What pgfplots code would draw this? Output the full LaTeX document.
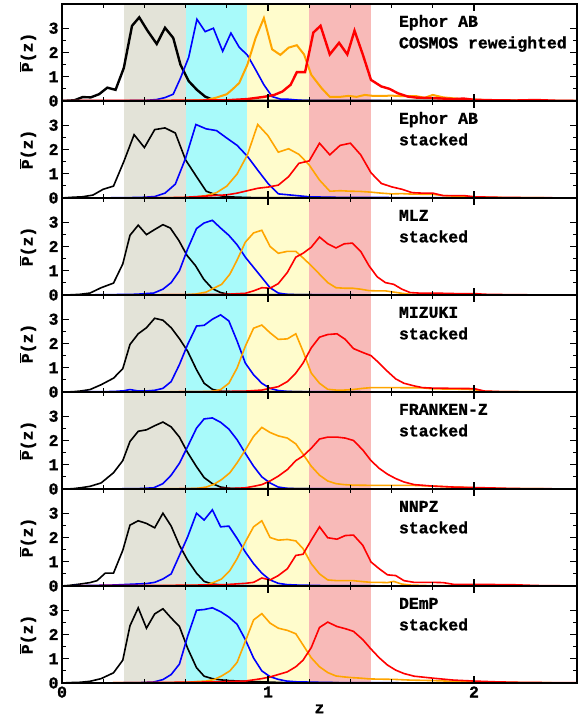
\documentclass[border=0pt]{standalone}
\usepackage{pgfplots}
\pgfplotsset{compat=1.18}
\usepackage{fontspec}
\setmainfont{Liberation Mono}[BoldFeatures={FakeBold=1.2}]

\definecolor{bgray}{RGB}{227,227,216}
\definecolor{bcyan}{RGB}{168,250,250}
\definecolor{byellow}{RGB}{255,252,204}
\definecolor{bred}{RGB}{248,186,184}
\definecolor{corange}{RGB}{255,165,0}

\newcommand{\labfont}{\fontsize{16.5}{19}\selectfont\bfseries}

\pgfplotsset{
  pzpanel/.style={
    width=515bp, height=97bp, scale only axis,
    anchor=south west,
    xmin=0, xmax=2.5, ymin=0, ymax=4,
    xtick={0,1,2}, ytick={0,1,2,3},
    minor x tick num=4, minor y tick num=1,
    tick align=inside,
    major tick length=7bp, minor tick length=4bp,
    tick style={line width=1.1bp, black},
    axis line style={line width=1.6bp},
    axis on top,
    /pgf/number format/assume math mode=true,
    tick label style={font=\labfont},
    label style={font=\labfont},
    ylabel={$\overline{\hbox{P}}$(z)},
    ylabel style={at={(axis description cs:-0.066,0.5)}, anchor=center},
    xticklabel=\empty,
  },
  kline/.style={black, line width=1.6bp},
  bline/.style={blue, line width=1.6bp},
  oline/.style={corange, line width=1.6bp},
  rline/.style={red, line width=1.6bp},
}

% redshift bins shaded behind the curves
\newcommand{\bands}{%
  \addplot[draw=none, fill=bgray]   coordinates {(0.3,0) (0.3,4) (0.6,4) (0.6,0)};
  \addplot[draw=none, fill=bcyan]   coordinates {(0.6,0) (0.6,4) (0.9,4) (0.9,0)};
  \addplot[draw=none, fill=byellow] coordinates {(0.9,0) (0.9,4) (1.2,4) (1.2,0)};
  \addplot[draw=none, fill=bred]    coordinates {(1.2,0) (1.2,4) (1.5,4) (1.5,0)};
}
\newcommand{\panellabel}[2]{%
  \node[anchor=base west, inner sep=0pt, font=\labfont] at (axis description cs:0.654,0.765) {#1};
  \node[anchor=base west, inner sep=0pt, font=\labfont] at (axis description cs:0.654,0.543) {#2};
}

\begin{document}
\begin{tikzpicture}
\useasboundingbox (0,0) rectangle (583bp,723bp);

% ---------------- Ephor AB, COSMOS reweighted ----------------
\begin{axis}[pzpanel, at={(62bp,622bp)}]
\bands
\addplot[kline, line width=2.4bp] coordinates {(0,0) (0.06,0.03) (0.1,0.16) (0.14,0.15) (0.18,0.28) (0.22,0.55) (0.26,0.46) (0.30,1.36) (0.34,3.1) (0.375,3.45) (0.415,2.9) (0.46,2.35) (0.50,3.02) (0.54,2.6) (0.575,1.5) (0.615,0.82) (0.655,0.46) (0.695,0.18) (0.735,0.04) (0.78,0.01) (2.5,0)};
\addplot[bline] coordinates {(0,0.01) (0.4,0.02) (0.46,0.06) (0.50,0.14) (0.54,0.28) (0.575,0.94) (0.615,1.8) (0.655,3.37) (0.695,2.86) (0.735,3.0) (0.78,2.05) (0.82,2.8) (0.86,2.22) (0.90,1.89) (0.94,1.29) (0.98,0.67) (1.02,0.18) (1.06,0.08) (1.10,0.07) (1.14,0.04) (1.18,0.02) (1.3,0.01) (2.5,0)};
\addplot[oline, line width=2bp] coordinates {(0,0) (0.6,0.01) (0.70,0.04) (0.75,0.14) (0.80,0.28) (0.83,0.5) (0.86,0.74) (0.90,1.5) (0.94,2.6) (0.98,3.42) (1.02,2.13) (1.06,1.9) (1.10,2.2) (1.14,2.3) (1.175,1.92) (1.21,1.08) (1.26,0.53) (1.30,0.17) (1.35,0.17) (1.39,0.21) (1.43,0.17) (1.47,0.25) (1.51,0.21) (1.55,0.21) (1.6,0.22) (1.65,0.2) (1.72,0.2) (1.76,0.13) (1.8,0.25) (1.85,0.15) (1.95,0.07) (2.05,0.04) (2.15,0.02) (2.5,0)};
\addplot[rline, line width=2.4bp] coordinates {(0,0) (0.5,0.01) (0.8,0.03) (0.9,0.08) (0.98,0.17) (1.03,0.25) (1.07,0.39) (1.11,0.67) (1.14,1.19) (1.18,1.19) (1.22,2.82) (1.255,3.1) (1.30,1.92) (1.345,2.4) (1.385,1.92) (1.42,2.9) (1.46,1.92) (1.50,0.87) (1.55,0.6) (1.59,0.5) (1.63,0.32) (1.68,0.18) (1.72,0.14) (1.8,0.12) (1.85,0.1) (1.9,0.08) (1.95,0.1) (2.0,0.05) (2.1,0.03) (2.2,0.02) (2.3,0.04) (2.4,0.01) (2.5,0)};
\panellabel{Ephor AB}{COSMOS reweighted}
\end{axis}

% ---------------- Ephor AB, stacked ----------------
\begin{axis}[pzpanel, at={(62bp,525bp)}]
\bands
\addplot[kline] coordinates {(0,0) (0.05,0.03) (0.1,0.05) (0.15,0.12) (0.2,0.36) (0.25,0.49) (0.3,1.5) (0.35,2.61) (0.4,2.08) (0.45,2.82) (0.5,2.89) (0.55,2.68) (0.6,1.57) (0.65,0.92) (0.7,0.28) (0.75,0.12) (0.8,0.05) (0.9,0.02) (1.0,0.01) (2.5,0)};
\addplot[bline] coordinates {(0,0) (0.3,0.01) (0.4,0.03) (0.45,0.06) (0.5,0.2) (0.55,0.57) (0.6,1.64) (0.65,3.03) (0.7,2.85) (0.75,2.78) (0.8,2.47) (0.85,2.17) (0.9,1.72) (0.95,1.15) (1.0,0.6) (1.05,0.17) (1.1,0.13) (1.15,0.09) (1.2,0.05) (1.3,0.03) (1.5,0.02) (2.5,0)};
\addplot[oline] coordinates {(0,0) (0.6,0.01) (0.65,0.04) (0.7,0.1) (0.75,0.22) (0.8,0.49) (0.85,0.99) (0.9,1.78) (0.95,3.03) (1.0,2.57) (1.05,1.89) (1.1,2.03) (1.15,1.8) (1.2,1.36) (1.25,0.74) (1.3,0.28) (1.35,0.3) (1.4,0.28) (1.45,0.27) (1.5,0.24) (1.55,0.2) (1.6,0.17) (1.65,0.18) (1.7,0.16) (1.8,0.15) (1.85,0.1) (1.9,0.08) (2.0,0.05) (2.1,0.02) (2.5,0)};
\addplot[rline] coordinates {(0,0) (0.5,0.01) (0.6,0.03) (0.7,0.08) (0.8,0.13) (0.85,0.2) (0.9,0.3) (0.95,0.4) (1.0,0.45) (1.05,0.53) (1.1,0.88) (1.15,1.43) (1.2,1.53) (1.25,2.26) (1.3,1.78) (1.35,2.17) (1.4,2.26) (1.45,1.78) (1.5,1.04) (1.55,0.6) (1.6,0.46) (1.65,0.36) (1.7,0.22) (1.75,0.2) (1.8,0.2) (1.85,0.1) (1.9,0.1) (1.95,0.1) (2.0,0.05) (2.1,0.03) (2.2,0.02) (2.5,0)};
\panellabel{Ephor AB}{stacked}
\end{axis}

% ---------------- MLZ ----------------
\begin{axis}[pzpanel, at={(62bp,428bp)}]
\bands
\addplot[kline] coordinates {(0,0) (0.05,0.01) (0.09,0.03) (0.136,0.08) (0.19,0.3) (0.25,0.49) (0.295,1.28) (0.33,2.46) (0.37,2.88) (0.41,2.49) (0.45,2.7) (0.49,2.9) (0.526,2.76) (0.567,2.25) (0.607,1.63) (0.648,1.21) (0.688,0.65) (0.73,0.26) (0.77,0.1) (0.81,0.03) (0.9,0.01) (2.5,0)};
\addplot[bline] coordinates {(0,0) (0.2,0.01) (0.36,0.03) (0.445,0.08) (0.49,0.24) (0.53,0.51) (0.57,1.0) (0.61,1.9) (0.653,2.74) (0.69,2.97) (0.73,3.08) (0.77,2.76) (0.81,2.46) (0.85,2.07) (0.89,1.56) (0.93,1.14) (0.97,0.72) (1.01,0.3) (1.05,0.08) (1.09,0.03) (1.15,0.01) (2.5,0)};
\addplot[oline] coordinates {(0,0) (0.6,0.01) (0.65,0.04) (0.70,0.12) (0.737,0.28) (0.775,0.44) (0.815,0.86) (0.85,1.44) (0.89,2.18) (0.93,2.56) (0.97,2.67) (1.01,2.0) (1.05,1.72) (1.094,1.8) (1.135,1.8) (1.17,1.53) (1.21,1.21) (1.25,0.86) (1.29,0.51) (1.33,0.3) (1.37,0.28) (1.41,0.28) (1.45,0.24) (1.49,0.18) (1.53,0.17) (1.57,0.17) (1.61,0.12) (1.65,0.07) (1.7,0.02) (1.8,0.01) (2.5,0)};
\addplot[rline] coordinates {(0,0) (0.6,0.01) (0.8,0.03) (0.89,0.07) (0.93,0.17) (0.97,0.3) (1.01,0.28) (1.05,0.47) (1.094,0.93) (1.135,1.56) (1.17,1.72) (1.21,1.97) (1.25,2.39) (1.29,2.11) (1.33,1.94) (1.37,2.11) (1.41,2.14) (1.45,1.8) (1.49,1.21) (1.53,0.75) (1.57,0.51) (1.61,0.44) (1.65,0.24) (1.69,0.1) (1.75,0.07) (1.85,0.07) (1.95,0.05) (2.0,0.06) (2.05,0.03) (2.2,0.01) (2.5,0)};
\panellabel{MLZ}{stacked}
\end{axis}

% ---------------- MIZUKI ----------------
\begin{axis}[pzpanel, at={(62bp,331bp)}]
\bands
\addplot[kline] coordinates {(0,0) (0.05,0.01) (0.09,0.04) (0.136,0.1) (0.19,0.3) (0.25,0.57) (0.295,0.96) (0.33,1.96) (0.37,2.4) (0.41,2.65) (0.45,3.04) (0.49,2.96) (0.53,2.65) (0.57,2.2) (0.61,1.68) (0.653,0.92) (0.69,0.36) (0.73,0.11) (0.77,0.03) (0.85,0.01) (2.5,0)};
\addplot[bline] coordinates {(0,0) (0.25,0.02) (0.3,0.05) (0.33,0.1) (0.37,0.04) (0.41,0.04) (0.45,0.07) (0.49,0.15) (0.53,0.43) (0.57,1.13) (0.61,1.96) (0.653,2.72) (0.69,2.75) (0.73,3.0) (0.77,3.18) (0.81,2.93) (0.85,2.1) (0.89,1.19) (0.93,0.71) (0.97,0.36) (1.01,0.15) (1.05,0.06) (1.1,0.02) (1.2,0.01) (2.5,0)};
\addplot[oline] coordinates {(0,0) (0.65,0.01) (0.73,0.03) (0.77,0.1) (0.81,0.36) (0.85,0.99) (0.89,1.89) (0.93,2.63) (0.97,2.76) (1.01,2.44) (1.05,2.17) (1.094,2.19) (1.135,2.4) (1.17,1.68) (1.21,0.78) (1.25,0.36) (1.29,0.11) (1.33,0.08) (1.37,0.08) (1.41,0.1) (1.46,0.15) (1.5,0.18) (1.6,0.18) (1.75,0.17) (1.8,0.13) (1.9,0.12) (2.0,0.1) (2.05,0.02) (2.5,0)};
\addplot[rline] coordinates {(0,0) (0.7,0.01) (0.9,0.04) (0.97,0.08) (1.01,0.15) (1.05,0.22) (1.094,0.43) (1.135,0.78) (1.17,1.19) (1.21,1.82) (1.25,2.26) (1.29,2.37) (1.335,2.4) (1.375,2.17) (1.415,1.79) (1.46,1.63) (1.5,1.5) (1.54,1.19) (1.58,0.85) (1.62,0.54) (1.66,0.36) (1.71,0.25) (1.75,0.18) (1.8,0.16) (1.9,0.15) (2.0,0.14) (2.05,0.04) (2.15,0.01) (2.5,0)};
\panellabel{MIZUKI}{stacked}
\end{axis}

% ---------------- FRANKEN-Z ----------------
\begin{axis}[pzpanel, at={(62bp,234bp)}]
\bands
\addplot[kline] coordinates {(0,0) (0.05,0.01) (0.09,0.05) (0.136,0.11) (0.19,0.25) (0.25,0.67) (0.295,1.17) (0.33,1.96) (0.37,2.38) (0.41,2.44) (0.45,2.61) (0.49,2.76) (0.53,2.56) (0.57,2.14) (0.61,1.5) (0.653,0.92) (0.69,0.47) (0.73,0.22) (0.77,0.08) (0.81,0.03) (0.9,0.01) (2.5,0)};
\addplot[bline] coordinates {(0,0) (0.36,0.01) (0.445,0.05) (0.49,0.22) (0.53,0.57) (0.57,1.06) (0.61,1.75) (0.653,2.51) (0.69,2.89) (0.73,2.93) (0.77,2.75) (0.81,2.47) (0.85,2.03) (0.89,1.47) (0.93,0.94) (0.97,0.5) (1.01,0.25) (1.05,0.08) (1.09,0.03) (1.15,0.01) (2.5,0)};
\addplot[oline] coordinates {(0,0) (0.6,0.01) (0.66,0.03) (0.70,0.08) (0.737,0.19) (0.775,0.39) (0.815,0.67) (0.85,1.08) (0.89,1.61) (0.93,2.17) (0.97,2.54) (1.01,2.33) (1.05,2.19) (1.094,2.1) (1.135,1.86) (1.17,1.44) (1.21,0.94) (1.25,0.57) (1.29,0.33) (1.33,0.22) (1.37,0.18) (1.41,0.16) (1.5,0.15) (1.6,0.15) (1.7,0.15) (1.8,0.12) (1.9,0.08) (2.0,0.05) (2.1,0.02) (2.5,0)};
\addplot[rline] coordinates {(0,0) (0.7,0.01) (0.85,0.03) (0.89,0.05) (0.93,0.11) (0.97,0.18) (1.01,0.33) (1.05,0.53) (1.094,0.8) (1.135,1.17) (1.17,1.36) (1.21,1.68) (1.25,2.06) (1.29,2.14) (1.335,2.14) (1.375,2.1) (1.415,2.0) (1.46,1.61) (1.5,1.17) (1.54,0.85) (1.58,0.61) (1.62,0.43) (1.66,0.29) (1.71,0.18) (1.8,0.12) (1.9,0.08) (2.0,0.06) (2.1,0.04) (2.2,0.02) (2.35,0.01) (2.5,0)};
\panellabel{FRANKEN-Z}{stacked}
\end{axis}

% ---------------- NNPZ ----------------
\begin{axis}[pzpanel, at={(62bp,137bp)}]
\bands
\addplot[kline] coordinates {(0,0) (0.04,0.03) (0.088,0.08) (0.136,0.14) (0.17,0.22) (0.21,0.53) (0.25,0.53) (0.295,1.47) (0.33,2.51) (0.37,2.69) (0.41,2.58) (0.45,2.4) (0.49,3.0) (0.53,2.47) (0.57,1.68) (0.61,1.06) (0.653,0.53) (0.69,0.19) (0.73,0.08) (0.77,0.04) (0.85,0.01) (2.5,0)};
\addplot[bline] coordinates {(0,0) (0.25,0.04) (0.41,0.1) (0.45,0.15) (0.49,0.29) (0.53,0.5) (0.57,1.26) (0.61,2.03) (0.653,3.0) (0.69,2.72) (0.73,3.14) (0.77,2.44) (0.81,2.47) (0.85,1.96) (0.89,1.4) (0.93,0.92) (0.97,0.53) (1.01,0.25) (1.05,0.11) (1.09,0.06) (1.135,0.04) (1.3,0.01) (2.5,0)};
\addplot[oline] coordinates {(0,0) (0.6,0.01) (0.70,0.04) (0.737,0.15) (0.775,0.29) (0.815,0.64) (0.85,1.13) (0.89,1.82) (0.93,2.44) (0.97,2.69) (1.01,2.0) (1.05,1.89) (1.094,1.92) (1.135,1.86) (1.17,1.54) (1.21,0.92) (1.25,0.5) (1.29,0.25) (1.335,0.22) (1.375,0.22) (1.415,0.22) (1.46,0.18) (1.5,0.15) (1.54,0.15) (1.58,0.14) (1.61,0.19) (1.65,0.08) (1.69,0.04) (1.8,0.01) (2.5,0)};
\addplot[rline] coordinates {(0,0) (0.2,0.02) (0.6,0.03) (0.8,0.06) (0.89,0.11) (0.93,0.15) (0.97,0.33) (1.01,0.25) (1.05,0.43) (1.094,0.71) (1.135,1.26) (1.17,1.31) (1.21,1.89) (1.25,2.44) (1.29,1.99) (1.335,1.93) (1.375,2.08) (1.415,2.1) (1.46,1.68) (1.5,0.99) (1.54,0.71) (1.58,0.46) (1.62,0.43) (1.66,0.22) (1.71,0.15) (1.8,0.15) (1.85,0.14) (1.9,0.07) (2.0,0.07) (2.1,0.06) (2.2,0.05) (2.3,0.02) (2.5,0)};
\panellabel{NNPZ}{stacked}
\end{axis}

% ---------------- DEmP ----------------
\begin{axis}[pzpanel, at={(62bp,40bp)}, xticklabel={\pgfmathprintnumber{\tick}}, xlabel={z}]
\bands
\addplot[kline] coordinates {(0,0) (0.05,0.02) (0.09,0.03) (0.136,0.07) (0.19,0.18) (0.25,0.42) (0.295,0.94) (0.33,2.36) (0.37,3.1) (0.41,2.26) (0.45,2.85) (0.49,3.06) (0.53,2.68) (0.57,2.33) (0.61,1.43) (0.653,0.63) (0.69,0.28) (0.73,0.18) (0.77,0.13) (0.81,0.1) (0.89,0.07) (1.0,0.04) (1.1,0.01) (2.5,0)};
\addplot[bline] coordinates {(0,0) (0.36,0.01) (0.445,0.04) (0.49,0.14) (0.53,0.35) (0.57,0.78) (0.61,1.93) (0.653,3.0) (0.69,3.03) (0.73,3.1) (0.77,2.94) (0.81,2.72) (0.85,2.42) (0.89,1.79) (0.93,1.03) (0.97,0.5) (1.01,0.26) (1.05,0.15) (1.09,0.08) (1.135,0.05) (1.29,0.02) (1.45,0.01) (2.5,0)};
\addplot[oline] coordinates {(0,0) (0.6,0.02) (0.655,0.06) (0.70,0.08) (0.737,0.14) (0.775,0.29) (0.815,0.5) (0.85,0.85) (0.89,1.72) (0.93,2.6) (0.97,2.86) (1.01,2.47) (1.05,2.26) (1.094,2.17) (1.135,2.03) (1.17,1.57) (1.21,1.04) (1.25,0.67) (1.29,0.43) (1.33,0.29) (1.37,0.25) (1.41,0.22) (1.45,0.2) (1.49,0.17) (1.53,0.16) (1.61,0.15) (1.69,0.12) (1.8,0.1) (1.9,0.07) (2.0,0.05) (2.2,0.02) (2.5,0)};
\addplot[rline] coordinates {(0,0) (0.3,0.01) (0.69,0.04) (0.89,0.08) (0.97,0.18) (1.01,0.25) (1.05,0.35) (1.094,0.46) (1.135,0.67) (1.17,0.94) (1.21,1.46) (1.25,2.29) (1.29,2.51) (1.335,2.33) (1.375,2.24) (1.415,2.13) (1.46,1.79) (1.5,1.4) (1.54,1.04) (1.58,0.74) (1.62,0.53) (1.66,0.39) (1.71,0.28) (1.8,0.2) (1.9,0.12) (2.0,0.08) (2.1,0.05) (2.2,0.03) (2.3,0.02) (2.5,0.01)};
\panellabel{DEmP}{stacked}
\end{axis}
\end{tikzpicture}
\end{document}
